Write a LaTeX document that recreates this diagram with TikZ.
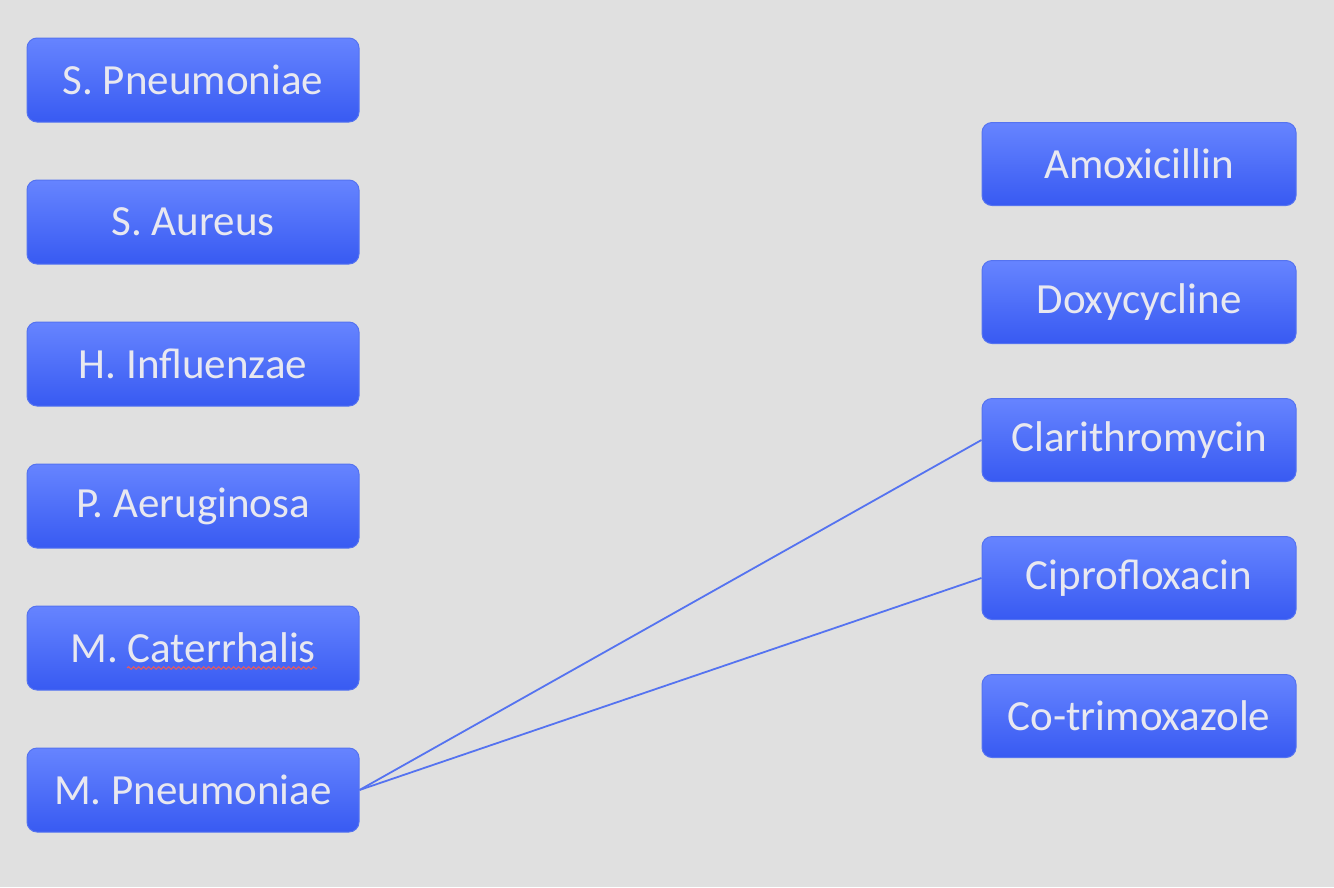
\documentclass[tikz,border=0pt]{standalone}
\usepackage{fontspec}
\setmainfont{Carlito}
\usepackage{xcolor}
\usepackage{tikz}
\usetikzlibrary{positioning, decorations.pathmorphing}

\definecolor{bgGrey}{RGB}{224,224,224}
\definecolor{boxTop}{RGB}{102,132,255}
\definecolor{boxBottom}{RGB}{56,90,242}
\definecolor{boxLine}{RGB}{85,115,240}
\definecolor{boxText}{RGB}{232,232,240}
\definecolor{spellRed}{RGB}{235,90,90}

\begin{document}
\begin{tikzpicture}[
  node distance=57pt and 0pt,
  box/.style={draw=boxLine, line width=1pt, rounded corners=10pt,
    top color=boxTop, bottom color=boxBottom, text=boxText,
    minimum width=332pt, minimum height=84pt, align=center,
    font=\fontsize{43}{50}\selectfont},
  drug/.style={box, minimum width=314pt, minimum height=83pt},
  link/.style={draw=boxLine, line width=1.8pt}
]
\fill[bgGrey] (0pt,0pt) rectangle (1334pt,-887pt);
\useasboundingbox (0pt,0pt) rectangle (1334pt,-887pt);

% Bacteria
\node[box] (spn) at (193pt,-80pt) {S. Pneumoniae};
\node[box, below=of spn] (sau) {S. Aureus};
\node[box, below=of sau] (hin) {H. Influenzae};
\node[box, below=of hin] (pae) {P. Aeruginosa};
\node[box, below=of pae] (mca) {M. Caterrhalis};
\node[box, below=of mca] (mpn) {M. Pneumoniae};

% Antibiotics
\node[drug] (amx) at (1139pt,-164pt) {Amoxicillin};
\node[drug, below=54pt of amx] (dox) {Doxycycline};
\node[drug, below=54pt of dox] (cla) {Clarithromycin};
\node[drug, below=54pt of cla] (cip) {Ciprofloxacin};
\node[drug, below=54pt of cip] (cot) {Co-trimoxazole};

% Spelling mark
\draw[spellRed, line width=1pt, decorate,
  decoration={snake, amplitude=1.3pt, segment length=5pt}]
  ([xshift=-66pt, yshift=-20pt]mca.center) -- ([xshift=124pt, yshift=-20pt]mca.center);

% Links
\draw[link] (mpn.east) -- (cla.west);
\draw[link] (mpn.east) -- (cip.west);
\end{tikzpicture}
\end{document}
